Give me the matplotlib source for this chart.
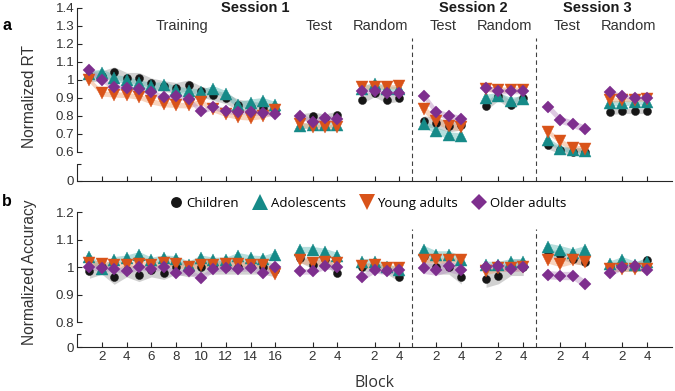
import matplotlib
matplotlib.use("Agg")
import matplotlib.pyplot as plt
import numpy as np

# ---------------- data ----------------
groups = ["Children", "Adolescents", "Young adults", "Older adults"]
colors = ["#161616", "#168A88", "#D95319", "#7E2F8E"]
band_colors = ["#9a9a9a", "#5fb8b5", "#f0a070", "#b68ac0"]
markers = ["o", "^", "v", "D"]
marker_sizes = [5.8, 8.6, 8.6, 6.4]

segment_names = ["Training", "Test", "Random", "Test", "Random", "Test", "Random"]
segment_sizes = [16, 4, 4, 4, 4, 4, 4]
session_names = ["Session 1", "Session 2", "Session 3"]

# Panel a: normalized RT (training 16, then 6 x 4 blocks)
rt_children = [1.02, 1.02, 1.042, 1.011, 1.011, 0.98, 0.965, 0.955, 0.969, 0.935, 0.915, 0.897, 0.862, 0.85, 0.845, 0.83,
               0.79, 0.80, 0.79, 0.805,
               0.89, 0.925, 0.89, 0.90,
               0.77, 0.76, 0.74, 0.75,
               0.855, 0.91, 0.86, 0.90,
               0.635, 0.607, 0.60, 0.60,
               0.822, 0.827, 0.827, 0.827]
rt_adolescents = [1.03, 1.04, 1.01, 1.0, 0.98, 0.965, 0.97, 0.945, 0.935, 0.93, 0.947, 0.92, 0.86, 0.873, 0.882, 0.859,
                  0.74, 0.75, 0.75, 0.75,
                  0.95, 0.975, 0.95, 0.95,
                  0.755, 0.717, 0.69, 0.686,
                  0.90, 0.91, 0.882, 0.893,
                  0.662, 0.617, 0.61, 0.605,
                  0.87, 0.87, 0.875, 0.875]
rt_young = [1.0, 0.925, 0.918, 0.916, 0.906, 0.88, 0.865, 0.86, 0.858, 0.878, 0.835, 0.81, 0.795, 0.79, 0.80, 0.83,
            0.754, 0.736, 0.736, 0.736,
            0.961, 0.96, 0.961, 0.963,
            0.837, 0.772, 0.745, 0.736,
            0.95, 0.945, 0.945, 0.945,
            0.712, 0.657, 0.62, 0.617,
            0.888, 0.89, 0.89, 0.895]
rt_older = [1.053, 0.999, 0.961, 0.952, 0.948, 0.93, 0.903, 0.91, 0.892, 0.825, 0.85, 0.825, 0.822, 0.822, 0.815, 0.81,
            0.80, 0.767, 0.789, 0.782,
            0.937, 0.937, 0.928, 0.925,
            0.91, 0.818, 0.796, 0.782,
            0.956, 0.937, 0.937, 0.937,
            0.851, 0.778, 0.754, 0.727,
            0.932, 0.91, 0.90, 0.90]

# error-band half widths per segment
rt_sem_children = [0.03, 0.02, 0.02, 0.03, 0.025, 0.02, 0.015]
rt_sem_adolescents = [0.02, 0.015, 0.015, 0.02, 0.02, 0.015, 0.015]
rt_sem_young = [0.015, 0.015, 0.012, 0.02, 0.015, 0.015, 0.012]
rt_sem_older = [0.015, 0.015, 0.012, 0.02, 0.015, 0.02, 0.012]

# Panel b: normalized accuracy
acc_children = [0.985, 1.0, 0.963, 0.99, 0.973, 0.99, 0.981, 1.0, 0.99, 1.0, 1.0, 1.0, 1.0, 1.0, 1.0, 0.99,
                1.033, 1.01, 1.03, 0.98,
                1.0, 1.0, 0.99, 0.964,
                1.042, 1.0, 1.0, 0.964,
                0.957, 0.97, 1.0, 1.0,
                1.05, 1.045, 1.03, 1.02,
                1.0, 1.0, 1.0, 1.025]
acc_adolescents = [1.039, 0.993, 1.027, 1.033, 1.045, 1.025, 1.033, 1.03, 1.01, 1.033, 1.025, 1.025, 1.042, 1.033, 1.03, 1.045,
                   1.064, 1.064, 1.057, 1.042,
                   1.02, 1.02, 1.0, 0.99,
                   1.064, 1.045, 1.045, 1.027,
                   1.01, 1.01, 1.02, 1.02,
                   1.073, 1.064, 1.052, 1.064,
                   1.012, 1.027, 1.01, 1.02]
acc_young = [1.017, 1.013, 1.01, 1.01, 1.012, 1.01, 1.015, 1.012, 1.0, 1.01, 1.01, 1.012, 1.012, 1.01, 1.01, 0.975,
             1.025, 1.017, 1.02, 1.017,
             1.005, 1.008, 0.997, 0.997,
             1.027, 1.025, 1.025, 1.025,
             0.985, 0.997, 0.997, 1.0,
             1.027, 1.013, 1.025, 1.02,
             0.994, 0.994, 0.994, 0.994]
acc_older = [1.0, 0.997, 0.995, 0.985, 1.0, 0.994, 1.0, 0.979, 0.985, 0.961, 0.994, 0.997, 0.994, 0.997, 0.981, 1.0,
             0.985, 0.985, 1.003, 1.0,
             0.964, 0.991, 0.985, 0.991,
             0.997, 0.991, 1.003, 0.991,
             1.0, 1.003, 0.994, 1.0,
             0.973, 0.97, 0.97, 0.94,
             0.979, 1.0, 1.005, 0.991]

acc_sem_children = [0.025, 0.015, 0.015, 0.025, 0.03, 0.015, 0.015]
acc_sem_adolescents = [0.012, 0.012, 0.012, 0.015, 0.012, 0.015, 0.012]
acc_sem_young = [0.01, 0.01, 0.01, 0.01, 0.012, 0.012, 0.01]
acc_sem_older = [0.01, 0.01, 0.012, 0.02, 0.012, 0.015, 0.01]

rt_data = [rt_children, rt_adolescents, rt_young, rt_older]
rt_sems = [rt_sem_children, rt_sem_adolescents, rt_sem_young, rt_sem_older]
acc_data = [acc_children, acc_adolescents, acc_young, acc_older]
acc_sems = [acc_sem_children, acc_sem_adolescents, acc_sem_young, acc_sem_older]

# ---------------- layout ----------------
seg_gap = 1
seg_starts = []
pos = 1
for n in segment_sizes:
    seg_starts.append(pos)
    pos += n + seg_gap
session_dividers = [seg_starts[3] - 1, seg_starts[5] - 1]
xmax = pos

plt.rcParams["font.family"] = ["Liberation Sans", "DejaVu Sans"]
spine_col = "#262626"
text_col = "#333333"

fig = plt.figure(figsize=(6.75, 3.91), dpi=100)
W, H = 675, 391
axA = fig.add_axes([77 / W, 1 - 180.7 / H, 595 / W, (180.7 - 8) / H])
axB = fig.add_axes([77 / W, 1 - 347 / H, 595 / W, (347 - 212.3) / H])


def draw_panel(ax, data, sems, ylo, yhi, spine_lo, bracket_top, yticks, show_xlabels):
    ax.set_xlim(0, xmax)
    ax.set_ylim(ylo, yhi)
    for g in range(4):
        vals = data[g]
        i0 = 0
        for s, n in enumerate(segment_sizes):
            xs = np.arange(seg_starts[s], seg_starts[s] + n)
            v = np.array(vals[i0:i0 + n])
            e = sems[g][s]
            ax.fill_between(xs, v - e, v + e, color=band_colors[g], alpha=0.45,
                            lw=0, zorder=1)
            i0 += n
    for g in range(4):
        vals = data[g]
        i0 = 0
        for s, n in enumerate(segment_sizes):
            xs = np.arange(seg_starts[s], seg_starts[s] + n)
            ax.plot(xs, vals[i0:i0 + n], ls="none", marker=markers[g],
                    ms=marker_sizes[g], color=colors[g], mec=colors[g], mew=0.3,
                    zorder=3 + g)
            i0 += n
    for sp in ["top", "right"]:
        ax.spines[sp].set_visible(False)
    ax.spines["left"].set_bounds(spine_lo, yhi)
    for sp in ["left", "bottom"]:
        ax.spines[sp].set_color(spine_col)
        ax.spines[sp].set_linewidth(0.8)
    tick_len_data = 4.3 / 12.66
    ax.plot([tick_len_data, 0, 0], [bracket_top, bracket_top, ylo], color=spine_col,
            lw=0.8, clip_on=False, zorder=10, solid_capstyle="butt")
    ax.set_yticks([ylo] + yticks)
    ax.set_yticklabels(["0"] + [("%g" % t) for t in yticks])
    xt, xl = [], []
    for s, n in enumerate(segment_sizes):
        for b in range(2, n + 1, 2):
            xt.append(seg_starts[s] + b - 1)
            xl.append(str(b))
    ax.set_xticks(xt)
    if show_xlabels:
        ax.set_xticklabels(xl)
    else:
        ax.set_xticklabels([])
    ax.tick_params(direction="in", length=3.5, width=0.8, color=spine_col,
                   labelsize=9.6, labelcolor=text_col, pad=3)
    ax.tick_params(axis="y", pad=2)


draw_panel(axA, rt_data, rt_sems, 0.438, 1.4, 0.6, 0.531,
           [0.6, 0.7, 0.8, 0.9, 1.0, 1.1, 1.2, 1.3, 1.4], False)
draw_panel(axB, acc_data, acc_sems, 0.71, 1.2, 0.8, 0.757,
           [0.8, 0.9, 1.0, 1.1, 1.2], True)

for xd in session_dividers:
    axA.plot([xd, xd], [0.438, 1.233], ls=(0, (4, 3)), color="#404040", lw=0.8, zorder=2)
    axB.plot([xd, xd], [0.71, 1.14], ls=(0, (4, 3)), color="#404040", lw=0.8, zorder=2)

for s, name in enumerate(segment_names):
    xc = seg_starts[s] + (segment_sizes[s] - 1) / 2
    axA.text(xc, 1.30, name, ha="center", va="center", fontsize=10.5, color=text_col)
session_centers = [14.4, (seg_starts[3] + seg_starts[4] + 3) / 2, (seg_starts[5] + seg_starts[6] + 3) / 2]
for sc, sn in zip(session_centers, session_names):
    axA.text(sc, 1.399, sn, ha="center", va="center", fontsize=10.5, fontweight="bold",
             color="#1a1a1a")

axA.set_ylabel("Normalized RT", fontsize=11.2, color=text_col)
axB.set_ylabel("Normalized Accuracy", fontsize=11.2, color=text_col)
axA.yaxis.set_label_coords((37 - 77) / 595, (180.7 - 96) / (180.7 - 8))
axB.yaxis.set_label_coords((37.5 - 77) / 595, (347 - 272) / (347 - 212.3))

fig.text(375 / W, 1 - 382.7 / H, "Block", ha="center", va="center", fontsize=11.5,
         family=["Open Sans", "DejaVu Sans"], color=text_col)

fig.text(7 / W, 1 - 25 / H, "a", ha="center", va="center", fontsize=11.5, fontweight="bold")
fig.text(7 / W, 1 - 201 / H, "b", ha="center", va="center", fontsize=11.5, fontweight="bold")

handles = [plt.Line2D([], [], ls="none", marker=markers[g], ms=marker_sizes[g] * 1.35,
                      color=colors[g], mew=0) for g in range(4)]
fig.legend(handles, groups, loc="center", bbox_to_anchor=(367 / W, 1 - 203 / H), ncol=4,
           frameon=False, prop={"family": ["Open Sans", "DejaVu Sans"], "size": 9.5},
           handletextpad=0.2, columnspacing=1.0, handlelength=1.2, borderaxespad=0)

fig.savefig("out.png", dpi=100)
